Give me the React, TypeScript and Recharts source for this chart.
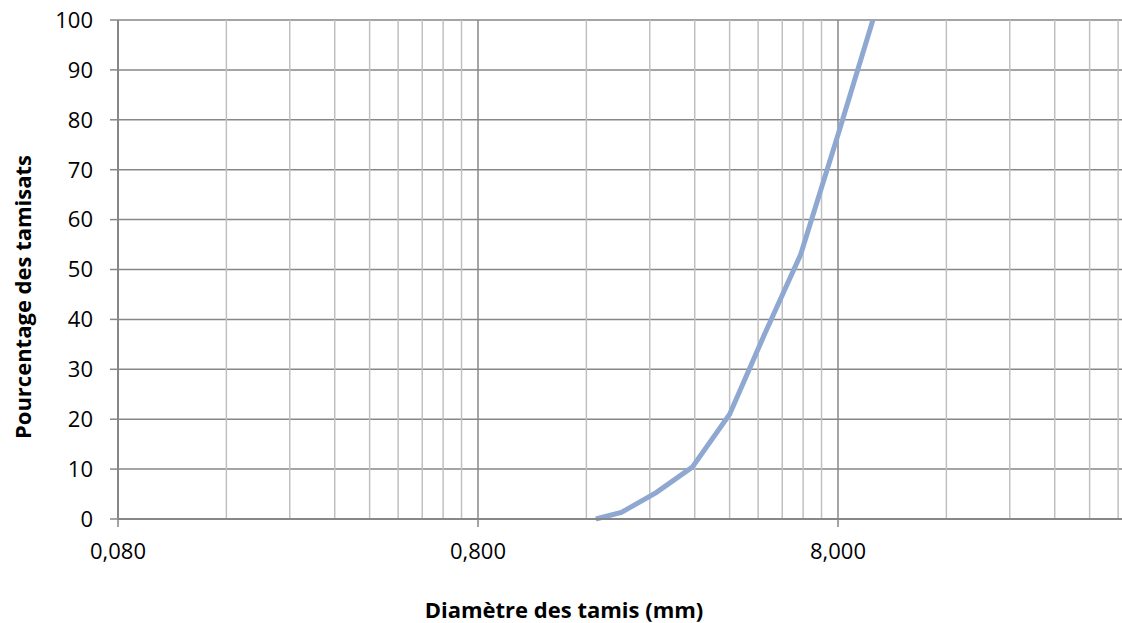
import React from "react";
import { LineChart, Line, XAxis, YAxis, CartesianGrid, ReferenceLine, Label } from "recharts";

// Sieve diameters (mm) and cumulative passing percentages
const diameters = [1.7, 2, 2.5, 3.15, 4, 5, 6.3, 8, 10];
const passing = [0, 1.3, 5.3, 10.4, 21, 37, 53, 77, 100];

// Axis ticks and labels
const xMajorTicks = [0.08, 0.8, 8];
const xTickLabels = ["0,080", "0,800", "8,000"];
const yTicks = [0, 10, 20, 30, 40, 50, 60, 70, 80, 90, 100];
const gridMultipliers = [2, 3, 4, 5, 6, 7, 8, 9];

const xTitle = "Diamètre des tamis (mm)";
const yTitle = "Pourcentage des tamisats";

const data = diameters.map((d, i) => ({ d, p: passing[i] }));
const minorGrid = xMajorTicks.flatMap((base) => gridMultipliers.map((m) => +(base * m).toFixed(4))).filter((v) => v <= 49.2);

const FONT = "'Open Sans', sans-serif";
const GRID_DARK = "#878787";
const GRID_LIGHT = "#c0c0c0";

export default function App() {
  return (
    <div style={{ position: "absolute", left: 0, top: 0, width: 1122, height: 623, background: "#fff" }}>
      <LineChart width={1122} height={623} data={data} margin={{ top: 20, right: 0, left: 0, bottom: 0 }}>
        <CartesianGrid vertical={false} stroke={GRID_DARK} strokeWidth={1.5} />
        {minorGrid.map((v) => (
          <ReferenceLine key={"m" + v} x={v} stroke={GRID_LIGHT} strokeWidth={1.5} ifOverflow="hidden" />
        ))}
        {xMajorTicks.slice(1).map((v) => (
          <ReferenceLine key={"M" + v} x={v} stroke={GRID_DARK} strokeWidth={1.5} />
        ))}
        <XAxis
          dataKey="d"
          type="number"
          scale="log"
          domain={[0.08, 49.2]}
          allowDataOverflow
          ticks={xMajorTicks}
          tickFormatter={(v: number) => xTickLabels[xMajorTicks.indexOf(v)] ?? ""}
          height={104}
          tickSize={8}
          tickMargin={16}
          axisLine={{ stroke: GRID_DARK, strokeWidth: 2 }}
          tickLine={{ stroke: GRID_DARK, strokeWidth: 1.5 }}
          tick={{ fill: "#000", fontSize: 22, fontFamily: FONT }}
        >
          <Label
            content={() => (
              <text x={564} y={618} textAnchor="middle" fontFamily={FONT} fontSize={22} fontWeight="bold" fill="#000">
                {xTitle}
              </text>
            )}
          />
        </XAxis>
        <YAxis
          type="number"
          domain={[0, 100]}
          ticks={yTicks}
          width={118}
          tickSize={8}
          tickMargin={17}
          interval={0}
          axisLine={{ stroke: GRID_DARK, strokeWidth: 2 }}
          tickLine={{ stroke: GRID_DARK, strokeWidth: 1.5 }}
          tick={{ fill: "#000", fontSize: 22, fontFamily: FONT }}
        >
          <Label
            content={() => (
              <text
                x={31}
                y={297}
                transform="rotate(-90 31 297)"
                textAnchor="middle"
                fontFamily={FONT}
                fontSize={22}
                fontWeight="bold"
                fill="#000"
              >
                {yTitle}
              </text>
            )}
          />
        </YAxis>
        <Line
          type="linear"
          dataKey="p"
          stroke="#8EA8D2"
          strokeWidth={5}
          dot={false}
          activeDot={false}
          isAnimationActive={false}
        />
      </LineChart>
    </div>
  );
}
